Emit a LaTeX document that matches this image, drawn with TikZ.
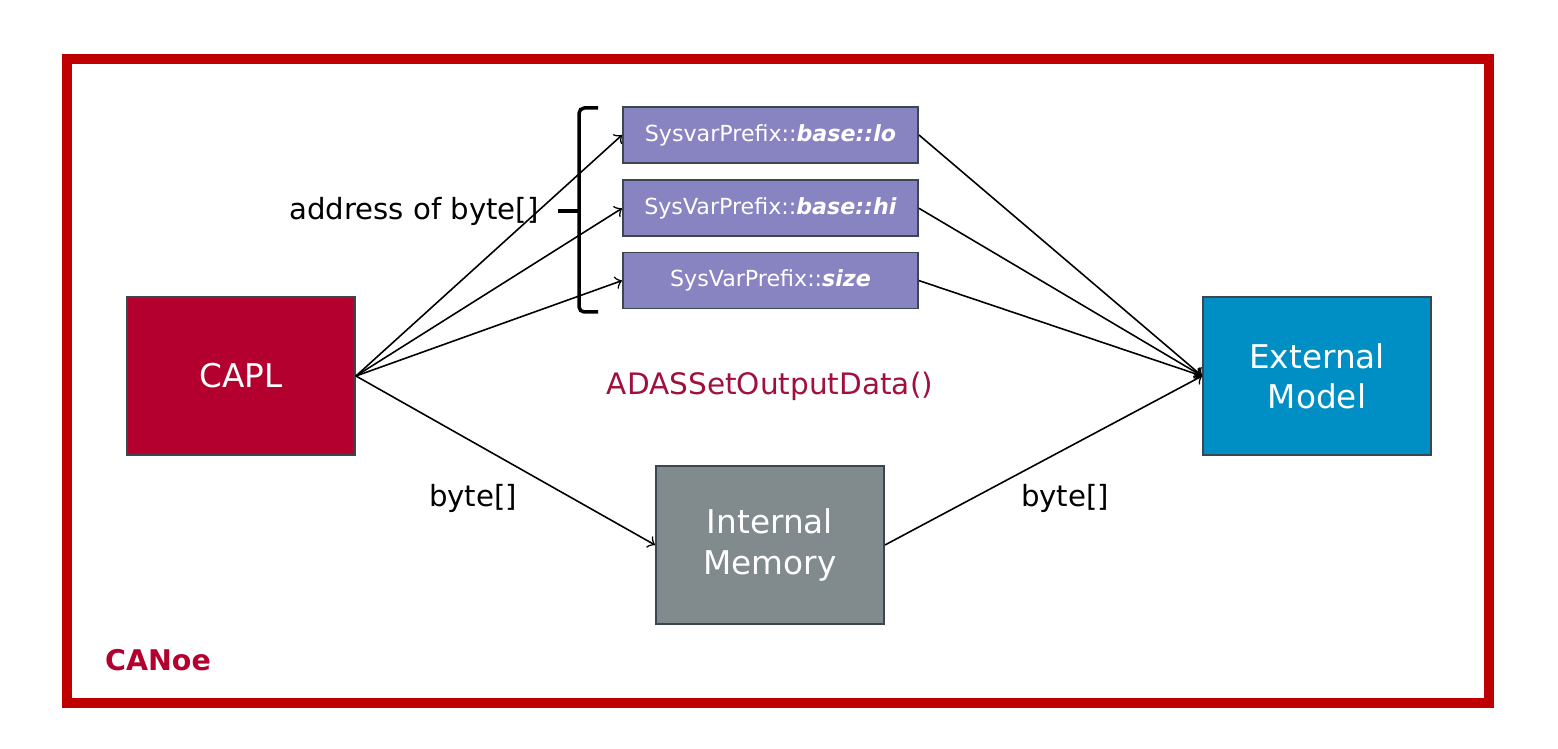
\documentclass[tikz,border=0pt]{standalone}
\usepackage{fontspec}
\setmainfont{DejaVu Sans}
\usepackage{tikz}
\usetikzlibrary{positioning,arrows}
\usepackage{xcolor}
\definecolor{frame}{HTML}{C00000}
\definecolor{caplred}{HTML}{B3002E}
\definecolor{sysvar}{HTML}{8884C2}
\definecolor{extblue}{HTML}{008FC4}
\definecolor{memgray}{HTML}{818A8C}
\definecolor{boxline}{HTML}{3C4650}
\definecolor{funcred}{HTML}{A0103C}

\begin{document}
\begin{tikzpicture}[x=0.01cm,y=-0.01cm,
  block/.style={draw=boxline,line width=0.5pt,inner sep=0pt,minimum width=2.28cm,minimum height=1.58cm,text=white,align=center,font=\fontsize{9.3}{11.4}\selectfont},
  varbox/.style={draw=boxline,line width=0.5pt,fill=sysvar,inner sep=0pt,minimum width=2.95cm,minimum height=0.56cm,text=white,font=\fontsize{6.3}{7.5}\selectfont},
  link/.style={->,>=to,line width=0.45pt},
  lbl/.style={font=\fontsize{8.3}{10}\selectfont}]
  \useasboundingbox (0,0) rectangle (1558,749);
  \draw[frame,line width=0.1cm] (67,59) rectangle (1489,703);
  \node[block,fill=caplred] (capl) at (241,376) {CAPL};
  \node[block,fill=extblue] (ext) at (1317,376) {External\\Model};
  \node[block,fill=memgray] (mem) at (770,545) {Internal\\Memory};
  \node[varbox] (lo) at (770.5,135) {SysvarPrefix::\textbf{\textit{base::lo}}};
  \node[varbox,below=0.155cm of lo] (hi) {SysVarPrefix::\textbf{\textit{base::hi}}};
  \node[varbox,below=0.145cm of hi] (size) {SysVarPrefix::\textbf{\textit{size}}};
  % brace
  \draw[line width=0.035cm,rounded corners=1.5pt] (598,108) -- (579,108) -- (579,312) -- (598,312);
  \draw[line width=0.035cm] (558,211) -- (579,211);
  \node[lbl,anchor=east] (addr) at (551,211) {address of byte[]};
  \node[font=\fontsize{8.4}{10}\selectfont,text=funcred] (func) at (770,386) {ADASSetOutputData()};
  \node[lbl] (b1) at (473,498) {byte[]};
  \node[lbl] (b2) at (1065,498) {byte[]};
  \node[font=\bfseries\fontsize{8.1}{10}\selectfont,text=caplred] (canoe) at (158,660) {CANoe};
  % connectors
  \foreach \v in {lo,hi,size} {
    \draw[link] (capl.east) -- (\v.west);
    \draw[link] (\v.east) -- (ext.west);
  }
  \draw[link] (capl.east) -- (mem.west);
  \draw[link] (mem.east) -- (ext.west);
\end{tikzpicture}
\end{document}
